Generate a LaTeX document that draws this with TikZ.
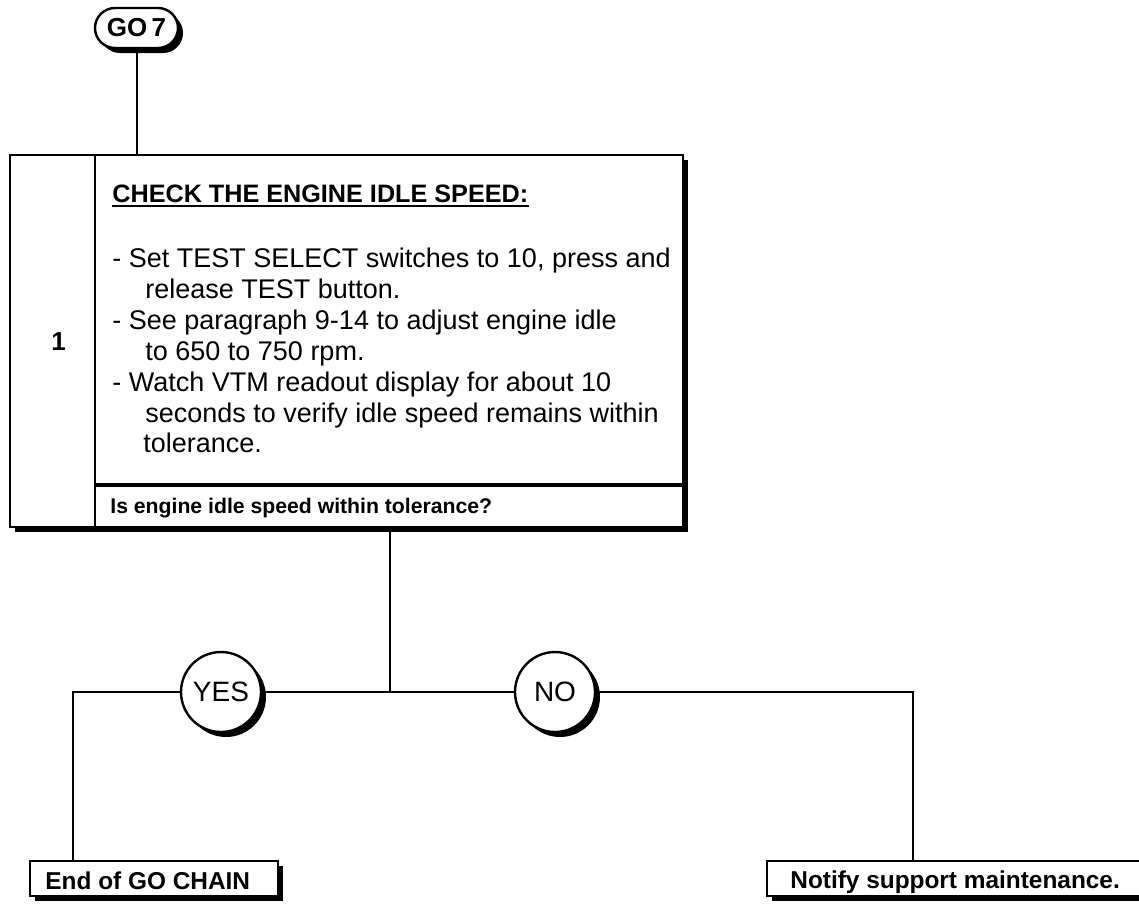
\documentclass[tikz,border=0pt]{standalone}
\usepackage{fontspec}
\setmainfont{Liberation Sans}
\usetikzlibrary{shapes.misc,shadows}
\begin{document}
\begin{tikzpicture}[x=0.5pt,y=-0.5pt,
  boxline/.style={draw, line width=1.2pt, fill=white, inner sep=0pt},
  shad/.style={drop shadow={shadow xshift=2.5pt, shadow yshift=-2.5pt, fill=black, opacity=1}},
  conn/.style={line width=1pt},
  txt/.style={inner sep=0pt, anchor=base west, font=\fontsize{13.5}{15}\selectfont},
  btxt/.style={inner sep=0pt, anchor=base west, font=\fontsize{10.6}{13}\selectfont\bfseries},
  etxt/.style={inner sep=0pt, anchor=base west, font=\fontsize{12.2}{14}\selectfont\bfseries},
  circ/.style={circle, draw, line width=1.2pt, fill=white, minimum size=40pt, inner sep=0pt, shad, font=\fontsize{14}{16}\selectfont}
]
\useasboundingbox (0,0) rectangle (1139,905);
\clip (0,0) rectangle (1139,905);
\fill[white] (0,0) rectangle (1139,905);

% start pill
\node[rounded rectangle, boxline, shad, minimum width=41.5pt, minimum height=20pt,
      font=\fontsize{13}{15}\selectfont\bfseries] (go) at (136.5,28) {GO\,7};

% main box
\node[boxline, shad, minimum width=336.5pt, minimum height=186pt] (mainbox) at (346.5,341) {};
\coordinate (ct) at (95,155);
\coordinate (qy) at (95,485);
\draw[line width=1.2pt] (ct) -- (ct |- mainbox.south);
\draw[line width=1.8pt] (qy) -- (qy -| mainbox.east);

% texts in main box
\node[etxt, font=\fontsize{13}{15}\selectfont\bfseries] (num) at (51,350) {1};
\node[btxt, font=\fontsize{12.6}{14}\selectfont\bfseries] (head) at (112,202) {CHECK THE ENGINE IDLE SPEED:};
\draw[line width=1pt] ([yshift=-2.2pt]head.base west) -- ([yshift=-2.2pt]head.base east);
\node[txt] (l1) at (112,267) {- Set TEST SELECT switches to 10, press and};
\node[txt] (l2) at (145,298) {release TEST button.};
\node[txt] (l3) at (112,329) {- See paragraph 9-14 to adjust engine idle};
\node[txt] (l4) at (145,360) {to 650 to 750 rpm.};
\node[txt] (l5) at (112,391) {- Watch VTM readout display for about 10};
\node[txt] (l6) at (145,422) {seconds to verify idle speed remains within};
\node[txt] (l7) at (143,452) {tolerance.};
\node[btxt] (q) at (110,513) {Is engine idle speed within tolerance?};

% decision circles
\node[circ] (yes) at (221,692) {YES};
\node[circ] (no) at (555,692) {NO};

% end boxes
\node[boxline, shad, minimum width=124pt, minimum height=17.5pt] (endbox) at (154,878.5) {};
\node[etxt] (endtext) at (45,889) {End of GO CHAIN};
\node[boxline, shad, minimum width=200pt, minimum height=17.5pt] (notify) at (967,878.5) {};
\node[etxt] (notifytext) at (790,888) {Notify support maintenance.};

% connectors
\coordinate (jn) at (390,692);
\coordinate (lc) at (73,692);
\coordinate (rc) at (913,692);
\draw[conn] (go.south) -- (go.south |- mainbox.north);
\draw[conn] (jn |- mainbox.south) -- (jn);
\draw[conn] (endbox.north -| lc) -- (lc) -- (yes);
\draw[conn] (yes) -- (no);
\draw[conn] (no) -- (rc) -- (rc |- notify.north);
\end{tikzpicture}
\end{document}
